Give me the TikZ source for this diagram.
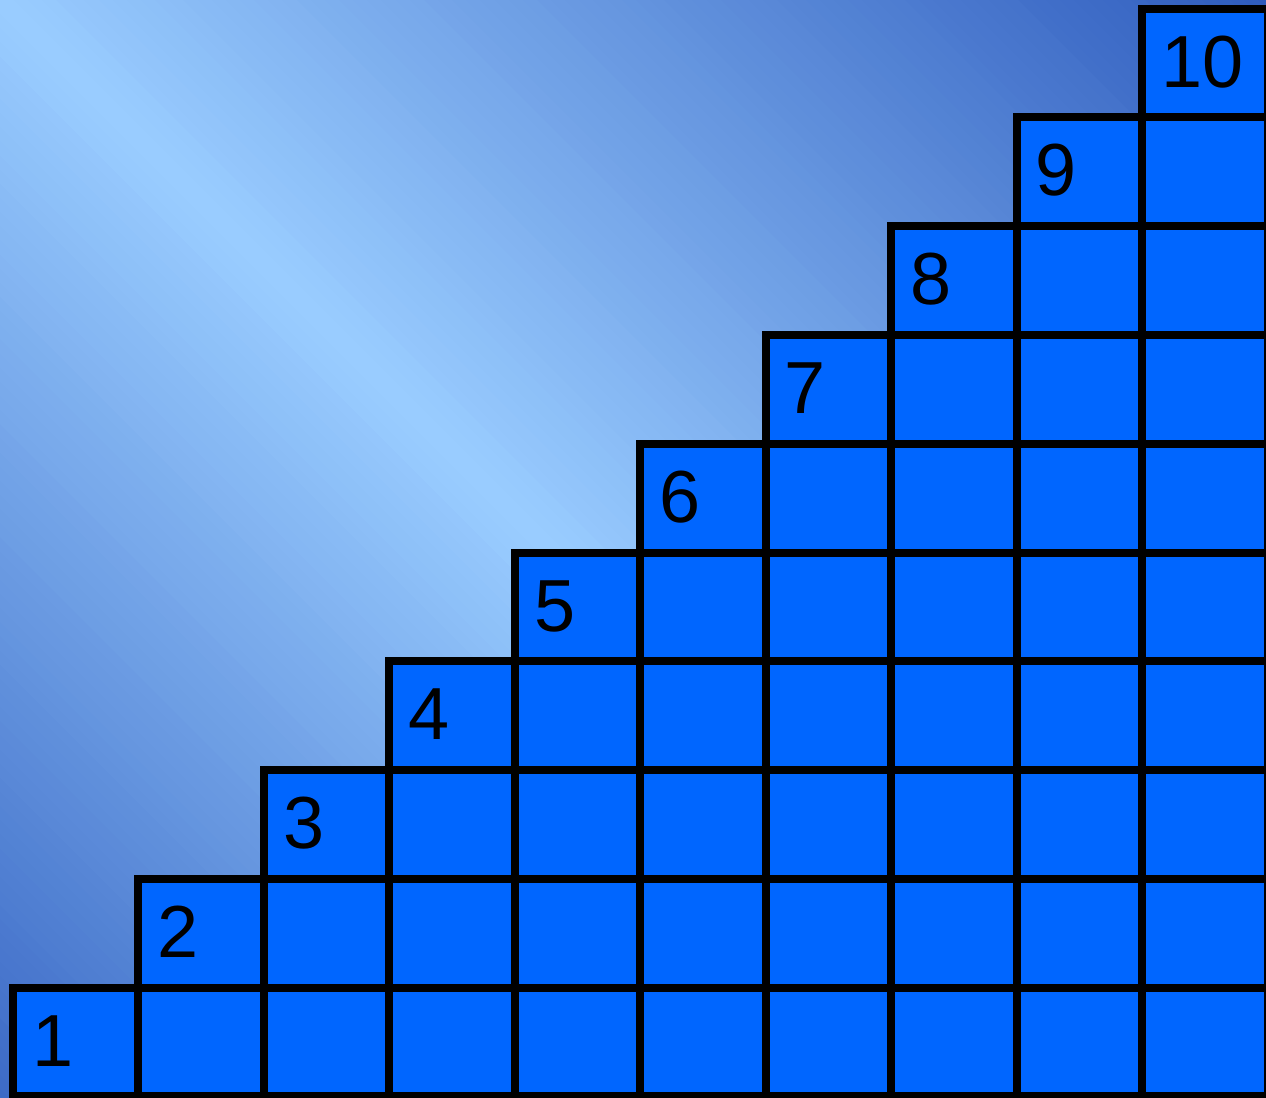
\documentclass[tikz,border=0pt]{standalone}
\usepackage{fontspec}
\setmainfont{Liberation Sans}
\usetikzlibrary{positioning, calc}
\definecolor{sfondochiaro}{RGB}{153,204,255}
\definecolor{sfondoscuro}{RGB}{46,91,189}
\definecolor{cella}{RGB}{0,102,255}
\tikzset{
    cellbox/.style={draw=black, fill=cella, line width=0.08cm, inner sep=0pt, outer sep=0pt,
        minimum width=1.2545cm, minimum height=1.0878cm},
    numlabel/.style={anchor=base west, inner sep=0pt, text=black,
        font=\fontsize{21}{25}\selectfont}
}
\begin{document}
\begin{tikzpicture}
            \useasboundingbox (0,0) rectangle (12.66,10.98);
            % sfondo
            \begin{scope}
                \clip (0,0) rectangle (12.66,10.98);
                \begin{scope}[shift={(0,10.98)},rotate=45]
                    \foreach \u in {-79,...,90}{
                        \pgfmathtruncatemacro{\p}{min(100,abs(\u+0.5)/89.5*100)}
                        \fill[sfondoscuro!\p!sfondochiaro] (\u/10,-20) rectangle ({\u/10+0.11},20);
                    }
                \end{scope}
            \end{scope}
            % celle
            \foreach \i in {1,...,10}{
                \foreach \j in {1,...,\i}{
                    \node[cellbox] (c\i-\j) at ({0.13+(\i-0.5)*1.2545},{0.015+(\j-0.5)*1.0878}) {};
                }
            }
            %numeri
            \foreach \i in {1,...,10}{
                \node[numlabel] (n\i) at ([xshift=0.185cm,yshift=-0.785cm]c\i-\i.north west) {\i};
            }
        \end{tikzpicture}
\end{document}
